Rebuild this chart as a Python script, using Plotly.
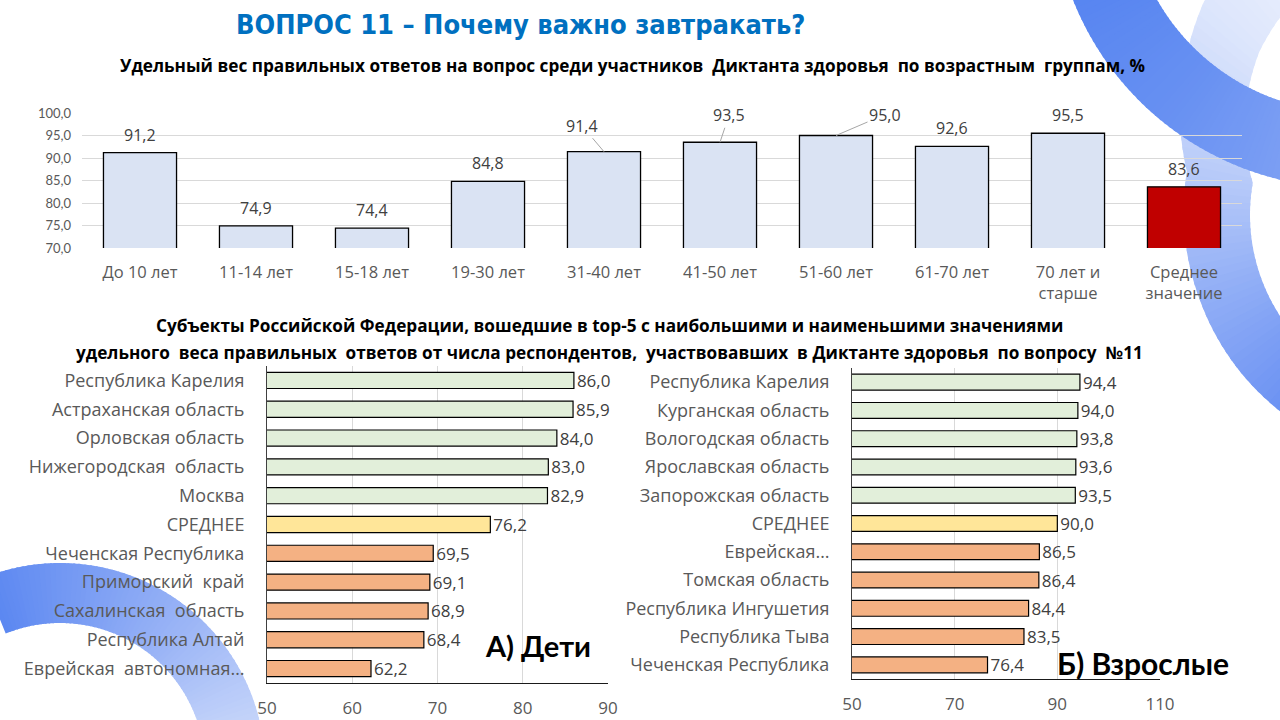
import numpy as np
import plotly.graph_objects as go

W, H = 1280, 720

# --- data -------------------------------------------------------------
age_groups = ["До 10 лет", "11-14 лет", "15-18 лет", "19-30 лет", "31-40 лет",
              "41-50 лет", "51-60 лет", "61-70 лет", "70 лет и<br>старше",
              "Среднее<br>значение"]
age_values = [91.2, 74.9, 74.4, 84.8, 91.4, 93.5, 95.0, 92.6, 95.5, 83.6]

kids_regions = ["Республика Карелия", "Астраханская область", "Орловская область",
                "Нижегородская  область", "Москва", "СРЕДНЕЕ", "Чеченская Республика",
                "Приморский  край", "Сахалинская  область", "Республика Алтай",
                "Еврейская  автономная…"]
kids_values = [86.0, 85.9, 84.0, 83.0, 82.9, 76.2, 69.5, 69.1, 68.9, 68.4, 62.2]

adult_regions = ["Республика Карелия", "Курганская область", "Вологодская область",
                 "Ярославская область", "Запорожская область", "СРЕДНЕЕ", "Еврейская…",
                 "Томская область", "Республика Ингушетия", "Республика Тыва",
                 "Чеченская Республика"]
adult_values = [94.4, 94.0, 93.8, 93.6, 93.5, 90.0, 86.5, 86.4, 84.4, 83.5, 76.4]

# --- colours ----------------------------------------------------------
BAR_BLUE = "#dae3f3"
BAR_RED = "#c00000"
TOP5 = "#e2efda"
MEAN = "#ffe699"
LOW5 = "#f4b183"
GRID = "#d9d9d9"
TXT = "#404040"
TICK = "#595959"
FONT = "Open Sans, Lato, sans-serif"
BIG = "Lato, Open Sans, sans-serif"

age_colors = [BAR_BLUE] * (len(age_values) - 1) + [BAR_RED]
region_colors = [TOP5] * 5 + [MEAN] + [LOW5] * 5


def px_x(x):
    return x / W


def px_y(y):
    return 1 - y / H


def hex_rgb(c):
    return [int(c[i:i + 2], 16) for i in (1, 3, 5)]


def ring(cx, cy, angles, r_in, r_out, colors, n=70):
    # decorative arc band (radii and colour interpolated along the angle)
    a0, a1 = angles[0], angles[-1]
    rgb = np.array([hex_rgb(c) for c in colors], dtype=float)
    order = np.argsort(angles)
    ang_sorted = np.array(angles)[order]
    out = []
    for i in range(n):
        t = np.linspace(a0 + (a1 - a0) * i / n, a0 + (a1 - a0) * (i + 1.4) / n, 5)
        ri = np.interp(t, ang_sorted, np.array(r_in)[order])
        ro = np.interp(t, ang_sorted, np.array(r_out)[order])
        rad = np.radians(t)
        pts = list(zip(cx + ro * np.cos(rad), cy + ro * np.sin(rad)))
        pts += list(zip(cx + ri * np.cos(rad), cy + ri * np.sin(rad)))[::-1]
        tm = a0 + (a1 - a0) * (i + 0.5) / n
        col = [np.interp(tm, ang_sorted, rgb[order, k]) for k in range(3)]
        path = "M " + " L ".join(f"{px_x(x):.5f},{px_y(y):.5f}" for x, y in pts) + " Z"
        out.append(dict(type="path", xref="paper", yref="paper", path=path,
                        fillcolor="rgb({:.0f},{:.0f},{:.0f})".format(*col),
                        line=dict(width=0), layer="below"))
    return out


shapes = []
# right ring: pale at the top, saturated at the bottom
shapes += ring(1435, 215, [255, 223, 190, 160, 120],
               [280, 240, 185, 185, 185], [330, 315, 252, 250, 250],
               ["#f4f7fe", "#dde6fc", "#b7caf9", "#91aef6", "#628bf2"])
# top band crossing the corner
shapes += ring(1350, -110, [172, 130, 90], [222, 222, 222], [298, 298, 298],
               ["#5080f0", "#6790f2", "#86a6f4"])
# bottom-left band
shapes += ring(60, 768, [-112, -50, 0], [145, 145, 145], [205, 205, 205],
               ["#5b87f1", "#9ab4f6", "#d3dffb"])

fig = go.Figure()

# top chart: by age group
fig.add_trace(go.Bar(
    x=age_groups, y=age_values, marker=dict(color=age_colors, line=dict(color="black", width=1.3)),
    width=0.63, xaxis="x", yaxis="y", hoverinfo="x+y"))

# bottom left: children
fig.add_trace(go.Bar(
    y=kids_regions, x=kids_values, orientation="h",
    marker=dict(color=region_colors, line=dict(color="black", width=1.2)),
    width=0.56, xaxis="x2", yaxis="y2", texttemplate="%{x:.1f}", textposition="outside",
    constraintext="none", cliponaxis=False, textfont=dict(size=17, color=TXT, family=FONT)))

# bottom right: adults
fig.add_trace(go.Bar(
    y=adult_regions, x=adult_values, orientation="h",
    marker=dict(color=region_colors, line=dict(color="black", width=1.2)),
    width=0.56, xaxis="x3", yaxis="y3", texttemplate="%{x:.1f}", textposition="outside",
    constraintext="none", cliponaxis=False, textfont=dict(size=17, color=TXT, family=FONT)))

# data labels for the top chart (some pushed aside with leader lines)
label_offsets = {4: (-22, -26), 5: (9, -27), 6: (49, -21)}
annotations = []
for i, (cat, val) in enumerate(zip(age_groups, age_values)):
    txt = f"{val:.1f}".replace(".", ",")
    if i in label_offsets:
        ax, ay = label_offsets[i]
        annotations.append(dict(x=cat, y=val, xref="x", yref="y", text=txt, showarrow=True,
                                arrowhead=0, arrowwidth=1, arrowcolor="#a6a6a6", ax=ax, ay=ay,
                                standoff=0, font=dict(size=16, color=TXT, family=FONT)))
    else:
        annotations.append(dict(x=cat, y=val, xref="x", yref="y", text=txt, showarrow=False,
                                yanchor="bottom", yshift=5,
                                font=dict(size=16, color=TXT, family=FONT)))

TITLE_FONT = "Liberation Sans Narrow, DejaVu Sans Condensed, Arial Narrow, sans-serif"


def note(text, x, y, size, color="black", family=FONT):
    return dict(text=text, x=px_x(x), y=px_y(y), xref="paper", yref="paper",
                xanchor="center", yanchor="middle", showarrow=False,
                font=dict(size=size, color=color, family=family))


annotations += [
    note("<b>ВОПРОС 11 – Почему важно завтракать?</b>", 520, 25, 27, "#0070c0", TITLE_FONT),
    note("<b>Удельный вес правильных ответов на вопрос среди участников  Диктанта здоровья  по возрастным  группам, %</b>",
         632, 65, 17.2),
    note("<b>Субъекты Российской Федерации, вошедшие в top-5 с наибольшими и наименьшими значениями</b>",
         609, 326, 17.2),
    note("<b>удельного  веса правильных  ответов от числа респондентов,  участвовавших  в Диктанте здоровья  по вопросу  №11</b>",
         609, 352, 17.2),
    note("<b>А) Дети</b>", 538, 645, 29, family=BIG),
    note("<b>Б) Взрослые</b>", 1143, 663, 30, family=BIG),
]

fig.update_layout(
    width=W, height=H, margin=dict(l=0, r=0, t=0, b=0),
    paper_bgcolor="white", plot_bgcolor="rgba(0,0,0,0)",
    separators=", ", showlegend=False,
    font=dict(family=FONT, color=TICK),
    shapes=shapes, annotations=annotations,
    xaxis=dict(domain=[px_x(82), px_x(1242)], anchor="y", showgrid=False, automargin=False,
               tickfont=dict(size=16.5, color=TICK), ticklabelstandoff=12,
               showline=False, fixedrange=True),
    yaxis=dict(domain=[px_y(248), px_y(113)], anchor="x", range=[70, 100], dtick=5,
               tickformat=".1f", showgrid=True, gridcolor=GRID, gridwidth=1, automargin=False,
               zeroline=False, tickfont=dict(size=13, color=TICK, family=BIG),
               ticklabelstandoff=10, fixedrange=True),
    xaxis2=dict(domain=[px_x(267), px_x(608)], anchor="y2", range=[50, 90], tick0=50, dtick=10,
                showgrid=True, gridcolor=GRID, zeroline=False, showline=True, automargin=False,
                linecolor="#1a1a1a", linewidth=1, tickfont=dict(size=17, color=TICK),
                ticklabelstandoff=10),
    yaxis2=dict(domain=[px_y(683), px_y(366)], anchor="x2", autorange="reversed",
                showline=True, linecolor="#404040", linewidth=1, automargin=False,
                tickfont=dict(size=18, color=TICK), ticklabelstandoff=18),
    xaxis3=dict(domain=[px_x(852), px_x(1160)], anchor="y3", range=[50, 110], tick0=50, dtick=20,
                showgrid=True, gridcolor=GRID, zeroline=False, showline=True, automargin=False,
                linecolor="#1a1a1a", linewidth=1, tickfont=dict(size=17, color=TICK),
                ticklabelstandoff=10),
    yaxis3=dict(domain=[px_y(679), px_y(368)], anchor="x3", autorange="reversed",
                showline=True, linecolor="#404040", linewidth=1, automargin=False,
                tickfont=dict(size=18, color=TICK), ticklabelstandoff=18),
)

fig.write_html("out.html", config={"displayModeBar": False},
               post_script="document.body.style.margin='0';document.body.style.overflow='hidden';")
